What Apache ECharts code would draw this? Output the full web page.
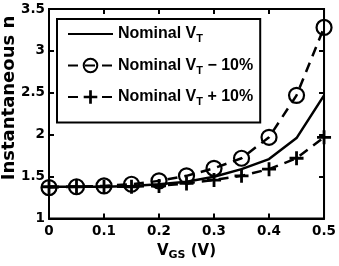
<!DOCTYPE html>
<html>
<head>
<meta charset="utf-8">
<script src="https://cdn.jsdelivr.net/npm/echarts@6/dist/echarts.min.js"></script>
<style>
  html, body { margin: 0; padding: 0; background: #fff; }
  #chart { width: 339px; height: 266px; }
</style>
</head>
<body>
<div id="chart"></div>
<script>
// V_GS sweep (V)
var vgs = [0, 0.05, 0.1, 0.15, 0.2, 0.25, 0.3, 0.35, 0.4, 0.45, 0.5];
// instantaneous n for each threshold corner
var nominal = [1.38, 1.38, 1.38, 1.39, 1.41, 1.44, 1.50, 1.59, 1.71, 1.96, 2.47];
var minus10 = [1.37, 1.38, 1.39, 1.41, 1.45, 1.51, 1.60, 1.72, 1.97, 2.47, 3.28];
var plus10 = [1.38, 1.38, 1.38, 1.38, 1.39, 1.42, 1.46, 1.51, 1.59, 1.72, 1.97];
var seriesNames = ['Nominal VT', 'Nominal VT − 10%', 'Nominal VT + 10%'];

var FONT = 'DejaVu Sans';
var LFONT = 'Liberation Sans';
var plusPath = 'path://M4,0H6V4H10V6H6V10H4V6H0V4H4Z';

function pairs(ys) {
    return vgs.map(function (x, i) { return [x, ys[i]]; });
}

var chart = echarts.init(document.getElementById('chart'));

var tickStyle = { show: true, inside: true, length: 5, lineStyle: { color: '#000', width: 2 } };
var lineAxis = { show: true, onZero: false, lineStyle: { color: '#000', width: 2 } };
var labelStyle = { color: '#000', fontFamily: FONT, fontWeight: 'bold', fontSize: 13.5 };

var option = {
    animation: false,
    backgroundColor: '#fff',
    grid: {
        left: 49, right: 14, top: 9, bottom: 45,
        show: true, borderColor: '#000', borderWidth: 2
    },
    xAxis: [
        {
            type: 'value', min: 0, max: 0.5, interval: 0.1,
            axisLine: lineAxis, axisTick: tickStyle, splitLine: { show: false },
            axisLabel: Object.assign({ margin: 6 }, labelStyle),
            name: '{v|V}{s|GS}{v| (V)}',
            nameLocation: 'middle', nameGap: 22,
            nameTextStyle: {
                rich: {
                    v: { fontFamily: FONT, fontWeight: 'bold', fontSize: 15, color: '#000' },
                    s: { fontFamily: FONT, fontWeight: 'bold', fontSize: 11, color: '#000', padding: [9, 0, 0, 0] }
                }
            }
        },
        {
            type: 'value', min: 0, max: 0.5, interval: 0.1, position: 'top',
            axisLine: lineAxis, axisTick: tickStyle, axisLabel: { show: false }, splitLine: { show: false }
        }
    ],
    yAxis: [
        {
            type: 'value', min: 1, max: 3.5, interval: 0.5,
            axisLine: lineAxis, axisTick: tickStyle, splitLine: { show: false },
            axisLabel: Object.assign({ margin: 4 }, labelStyle)
        },
        {
            type: 'value', min: 1, max: 3.5, interval: 0.5, position: 'right',
            axisLine: lineAxis, axisTick: tickStyle, axisLabel: { show: false }, splitLine: { show: false }
        }
    ],
    graphic: [{
        type: 'text', x: 9, y: 98, rotation: Math.PI / 2,
        style: {
            text: 'Instantaneous n', fill: '#000',
            font: 'bold 18px "DejaVu Sans"',
            align: 'center', verticalAlign: 'middle'
        }
    }],
    legend: {
        orient: 'vertical', left: 57, top: 19,
        padding: [7, 7, 15, 10], itemGap: 13,
        itemWidth: 45, itemHeight: 17,
        borderColor: '#000', borderWidth: 2, backgroundColor: '#fff',
        data: [
            { name: seriesNames[0], itemStyle: { opacity: 0 } },
            seriesNames[1],
            seriesNames[2]
        ],
        formatter: function (name) {
            return '{a|Nominal V}{s|T}{a|' + name.slice(10) + '}';
        },
        textStyle: {
            rich: {
                a: { fontFamily: LFONT, fontWeight: 'bold', fontSize: 16, color: '#000' },
                s: { fontFamily: LFONT, fontWeight: 'bold', fontSize: 11, color: '#000', padding: [10, 0, 0, 0] }
            }
        }
    },
    series: [
        {
            name: seriesNames[0], type: 'line', data: pairs(nominal),
            showSymbol: false, symbol: 'none', clip: false,
            lineStyle: { color: '#000', width: 2.5 },
            itemStyle: { color: '#000' }
        },
        {
            name: seriesNames[2], type: 'line', data: pairs(plus10),
            symbol: plusPath, symbolSize: 14, clip: false,
            lineStyle: { color: '#000', width: 2.5, type: [10, 7] },
            itemStyle: { color: '#000', borderWidth: 0 }
        },
        {
            name: seriesNames[1], type: 'line', data: pairs(minus10),
            symbol: 'circle', symbolSize: 15, clip: false,
            lineStyle: { color: '#000', width: 2.5, type: [10, 7] },
            itemStyle: { color: 'rgba(0,0,0,0)', borderColor: '#000', borderWidth: 2.2 }
        }
    ]
};

chart.setOption(option);
</script>
</body>
</html>
